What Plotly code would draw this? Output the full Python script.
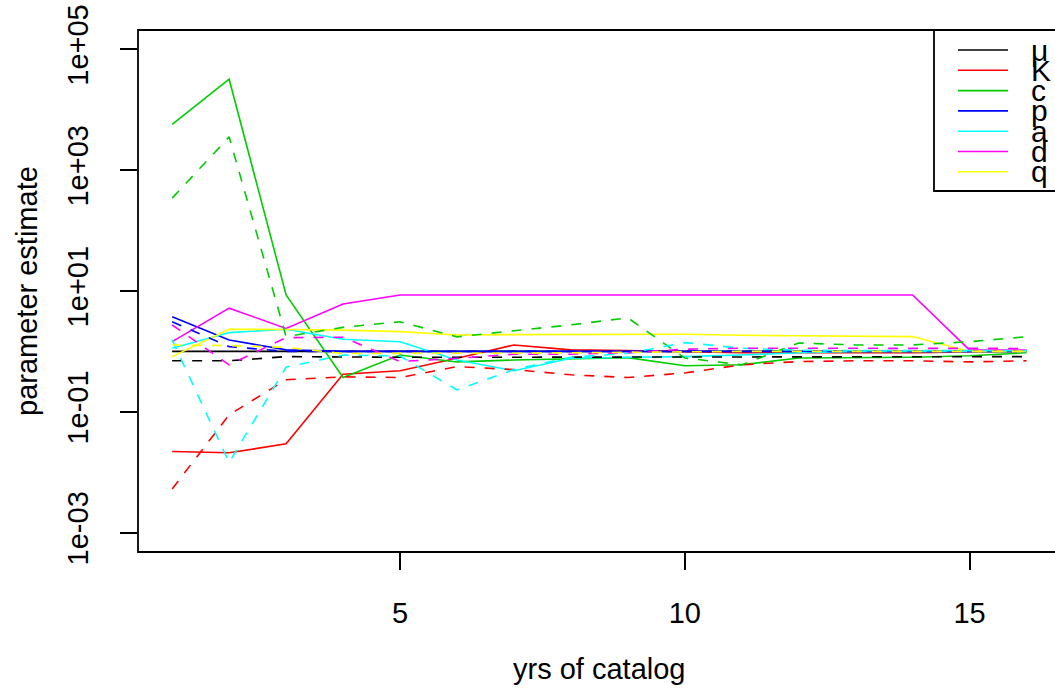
import plotly.graph_objects as go

# ---------------- data ----------------
years = [1, 2, 3, 4, 5, 6, 7, 8, 9, 10, 11, 12, 13, 14, 15, 16]

mu_solid = [1.0, 1.0, 1.0, 1.0, 1.0, 1.0, 1.0, 1.0, 1.0, 1.0, 1.0, 1.0, 1.0, 1.0, 1.0, 1.0]
mu_dash = [0.70, 0.70, 0.82, 0.80, 0.80, 0.80, 0.80, 0.80, 0.80, 0.80, 0.80, 0.80, 0.80, 0.80, 0.80, 0.82]

K_solid = [0.022, 0.021, 0.0295, 0.42, 0.48, 0.77, 1.28, 1.06, 1.03, 1.0, 0.95, 0.95, 0.95, 0.95, 0.98, 1.0]
K_dash = [0.0053, 0.089, 0.34, 0.38, 0.37, 0.56, 0.50, 0.41, 0.37, 0.44, 0.60, 0.68, 0.70, 0.70, 0.67, 0.70]

c_solid = [5750, 32000, 8.6, 0.37, 0.87, 0.67, 0.72, 0.75, 0.79, 0.58, 0.60, 0.78, 0.78, 0.80, 0.85, 0.95]
c_dash = [345, 3550, 1.76, 2.5, 3.1, 1.74, 2.2, 2.75, 3.6, 0.78, 0.60, 1.38, 1.28, 1.28, 1.45, 1.75]

p_solid = [3.76, 1.55, 1.06, 1.0, 1.0, 1.0, 1.0, 1.0, 1.0, 1.0, 1.0, 1.0, 1.0, 1.0, 1.0, 1.0]
p_dash = [3.1, 1.2, 1.0, 1.0, 1.0, 1.0, 1.0, 1.0, 1.0, 1.0, 1.0, 1.0, 1.0, 1.0, 1.0, 1.0]

a_solid = [1.13, 2.05, 2.33, 1.59, 1.45, 0.72, 0.48, 0.77, 0.80, 0.82, 0.87, 0.95, 1.0, 1.0, 1.0, 1.0]
a_dash = [1.55, 0.0145, 0.55, 0.87, 0.84, 0.23, 0.50, 0.80, 0.93, 1.40, 1.13, 1.05, 1.03, 1.03, 1.03, 1.03]

d_solid = [1.45, 5.2, 2.4, 6.1, 8.6, 8.6, 8.6, 8.6, 8.6, 8.6, 8.6, 8.6, 8.6, 8.6, 1.05, 1.05]
d_dash = [2.74, 0.60, 1.69, 1.72, 0.68, 0.77, 0.90, 0.90, 0.95, 1.09, 1.13, 1.13, 1.15, 1.15, 1.15, 1.12]

q_solid = [0.82, 2.33, 2.3, 2.25, 2.13, 1.87, 1.9, 1.92, 1.94, 1.92, 1.85, 1.82, 1.8, 1.76, 1.0, 1.0]
q_dash = [1.28, 1.25, 1.17, 0.92, 0.93, 0.92, 0.93, 0.95, 0.97, 1.0, 1.0, 1.0, 1.0, 1.0, 1.0, 1.0]

param_labels = ["\u03bc", "K", "c", "p", "a", "d", "q"]
param_colors = ["#000000", "#FF0000", "#00CD00", "#0000FF", "#00FFFF", "#FF00FF", "#FFFF00"]
solid_series = [mu_solid, K_solid, c_solid, p_solid, a_solid, d_solid, q_solid]
dash_series = [mu_dash, K_dash, c_dash, p_dash, a_dash, d_dash, q_dash]

y_tickvals = [1e-3, 1e-1, 1e1, 1e3, 1e5]
y_ticktext = ["1e-03", "1e-01", "1e+01", "1e+03", "1e+05"]
x_tickvals = [5, 10, 15]

# ---------------- figure ----------------
W, H = 1055, 692
L, R, T, B = 138, 0, 30, 140
PW, PH = W - L - R, H - T - B
FONT = "Liberation Sans, Arial, sans-serif"
FS = 29
LW = 1.6
DASH = "10px,10px"


def px_x(px):
    return (px - L) / PW


def px_y(py):
    return (H - B - py) / PH


fig = go.Figure()
for i in range(len(param_labels)):
    fig.add_trace(go.Scatter(x=years, y=solid_series[i], mode="lines",
                             line=dict(color=param_colors[i], width=LW),
                             showlegend=False, hoverinfo="skip"))
for i in range(len(param_labels)):
    fig.add_trace(go.Scatter(x=years, y=dash_series[i], mode="lines",
                             line=dict(color=param_colors[i], width=LW, dash=DASH),
                             showlegend=False, hoverinfo="skip"))

shapes = []
# plot frame (right side lies beyond the visible page)
shapes.append(dict(type="rect", xref="paper", yref="paper", x0=0, x1=1.02, y0=0, y1=1,
                   line=dict(color="black", width=1.8)))
# legend box
shapes.append(dict(type="rect", xref="paper", yref="paper",
                   x0=px_x(934), x1=px_x(1070), y0=px_y(191), y1=px_y(30),
                   line=dict(color="black", width=1.8), fillcolor="white", layer="above"))
annotations = []
for i, (lab, col) in enumerate(zip(param_labels, param_colors)):
    yy = 50 + 20.3 * i
    shapes.append(dict(type="line", xref="paper", yref="paper",
                       x0=px_x(958), x1=px_x(1008), y0=px_y(yy), y1=px_y(yy),
                       line=dict(color=col, width=LW), layer="above"))
    annotations.append(dict(xref="paper", yref="paper", x=px_x(1029), y=px_y(yy),
                            xanchor="left", yanchor="middle", text=lab, showarrow=False,
                            font=dict(family=FONT, size=30, color="black")))

# axis titles
annotations.append(dict(xref="paper", yref="paper", x=px_x(599), y=px_y(669),
                        xanchor="center", yanchor="middle", text="yrs of catalog",
                        showarrow=False, font=dict(family=FONT, size=FS, color="black")))
annotations.append(dict(xref="paper", yref="paper", x=px_x(27), y=px_y(291),
                        xanchor="center", yanchor="middle", text="parameter estimate",
                        textangle=-90, showarrow=False,
                        font=dict(family=FONT, size=FS, color="black")))

fig.update_layout(
    width=W, height=H,
    margin=dict(l=L, r=R, t=T, b=B, pad=0),
    paper_bgcolor="white", plot_bgcolor="white",
    font=dict(family=FONT, size=FS, color="black"),
    shapes=shapes, annotations=annotations,
    xaxis=dict(range=[0.4, 16.5], tickvals=x_tickvals, ticks="outside", ticklen=17,
               tickwidth=1.8, tickcolor="black", showgrid=False, zeroline=False,
               showline=False, ticklabelstandoff=18,
               tickfont=dict(family=FONT, size=FS, color="black")),
    yaxis=dict(type="log", range=[-3.32, 5.32], tickvals=y_tickvals, ticktext=y_ticktext,
               tickangle=-90, ticks="outside", ticklen=17, tickwidth=1.8, tickcolor="black",
               showgrid=False, zeroline=False, showline=False, ticklabelstandoff=20,
               tickfont=dict(family=FONT, size=FS, color="black")),
)

fig.write_html("out.html")
